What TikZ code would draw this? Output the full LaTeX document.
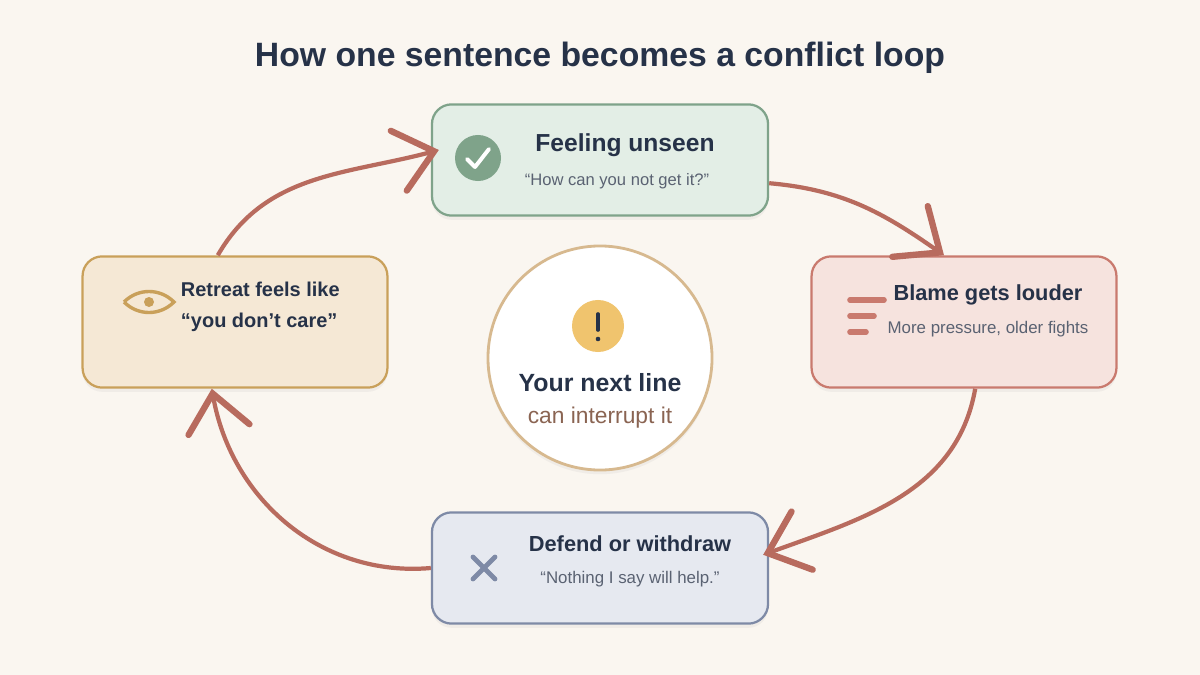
\documentclass[tikz,border=0pt]{standalone}
\usepackage{fontspec}
\setmainfont{Liberation Sans}
\usetikzlibrary{arrows.meta,shadows}
\definecolor{bg}{HTML}{FAF6F0}
\definecolor{ink}{HTML}{263248}
\definecolor{loop}{HTML}{B86B5E}
\definecolor{greenfill}{HTML}{E3EEE6}\definecolor{greenline}{HTML}{7FA38A}
\definecolor{redfill}{HTML}{F6E3DE}\definecolor{redline}{HTML}{C97A6E}
\definecolor{bluefill}{HTML}{E6E9F0}\definecolor{blueline}{HTML}{7E8AA6}
\definecolor{sandfill}{HTML}{F5E8D5}\definecolor{sandline}{HTML}{C9A05A}
\definecolor{ringline}{HTML}{D7B98F}
\definecolor{warnfill}{HTML}{F0C46E}
\definecolor{hubtxt}{HTML}{8A6452}
\definecolor{subtxt}{HTML}{5A6272}
\tikzset{
  stage/.style={rectangle, rounded corners=14pt, line width=1.6pt, minimum width=8.4cm, minimum height=2.78cm, drop shadow={opacity=0.08, shadow xshift=0pt, shadow yshift=-3pt}},
  head/.style={font=\fontsize{15.5}{18}\selectfont\bfseries, text=ink},
  sub/.style={font=\fontsize{12}{14}\selectfont, text=subtxt},
  loopline/.style={draw=loop, line width=3pt, -{Straight Barb[length=26pt, width=44pt, line width=4.5pt, line cap=round]}}
}
\begin{document}
\begin{tikzpicture}[x=0.025cm, y=-0.025cm]
  \fill[bg] (0,0) rectangle (1200,675);
  \node (title) [font=\fontsize{24}{28}\selectfont\bfseries, text=ink] at (600,58) {How one sentence becomes a conflict loop};

  % Stages
  \node (unseen) [stage, fill=greenfill, draw=greenline] at (600,160) {};
  \node (blame) [stage, fill=redfill, draw=redline, minimum width=7.62cm, minimum height=3.28cm] at (964,322) {};
  \node (defend) [stage, fill=bluefill, draw=blueline] at (600,568) {};
  \node (retreat) [stage, fill=sandfill, draw=sandline, minimum width=7.62cm, minimum height=3.28cm] at (235,322) {};

  % Center
  \node (hub) [circle, fill=white, draw=ringline, line width=2pt, minimum size=5.6cm, drop shadow={opacity=0.08, shadow xshift=0pt, shadow yshift=-3pt}] at (600,358) {};
  \node (warn) [circle, fill=warnfill, minimum size=1.3cm] at (598,326) {};
  \draw[ink, line width=2.6pt, line cap=round] (598,314) -- (598,330);
  \fill[ink] (598,339) circle (2.3);
  \node (next) [head, font=\fontsize{17.7}{20}\selectfont\bfseries] at (600,383) {Your next line};
  \node (interrupt) [font=\fontsize{16.2}{18}\selectfont, text=hubtxt] at (600,418) {can interrupt it};

  % Texts
  \node (unseenT) [head, font=\fontsize{17.5}{20}\selectfont\bfseries] at (625,145) {Feeling unseen};
  \node (unseenS) [sub, font=\fontsize{11.8}{14}\selectfont] at (617,181) {“How can you not get it?”};
  \node (blameT) [head] at (988,295) {Blame gets louder};
  \node (blameS) [sub] at (988,329) {More pressure, older fights};
  \node (defendT) [head] at (630,544) {Defend or withdraw};
  \node (defendS) [sub] at (630,579) {“Nothing I say will help.”};
  \node (retreatT) [head, font=\fontsize{14.2}{22}\selectfont\bfseries, align=left, anchor=west] at (176,307) {Retreat feels like\\“you don’t care”};

  % Icons
  \node (check) [circle, fill=greenline, minimum size=1.15cm] at (478,158) {};
  \draw[white, line width=2.8pt, line cap=round, line join=round] (467,159) -- (475,167) -- (489,149);
  \foreach \y/\w in {300/34, 316/24, 332/16}
    \draw[redline, line width=4pt, line cap=round] (850,\y) -- ++(\w,0);
  \draw[sandline, line width=2.4pt] (124,302) .. controls (138,288) and (160,288) .. (174,302) .. controls (160,316) and (138,316) .. (124,302);
  \fill[sandline] (149,302) circle (5);
  \draw[blueline, line width=3.4pt, line cap=round] (473,557) -- (495,579) (495,557) -- (473,579);

  % Loop
  \draw[loopline] ([xshift=-0.43cm]retreat.north) to[out=60, in=195] ([xshift=0.2cm, yshift=0.25cm]unseen.west);
  \draw[loopline] ([yshift=-0.58cm]unseen.east) to[out=-5, in=145] ([xshift=-0.5cm]blame.north);
  \draw[loopline] ([xshift=0.28cm]blame.south) to[out=-100, in=20] ([xshift=-0.15cm, yshift=0.33cm]defend.east);
  \draw[loopline] (defend.west) to[out=185, in=-80] ([xshift=-0.58cm]retreat.south);
\end{tikzpicture}
\end{document}
